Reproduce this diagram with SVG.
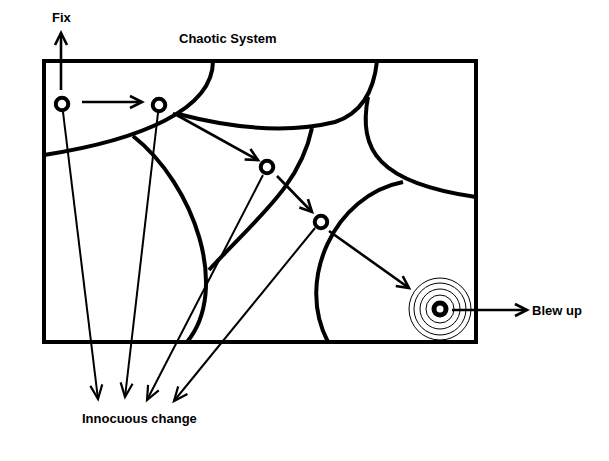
<svg xmlns="http://www.w3.org/2000/svg" width="609" height="461" viewBox="0 0 609 461">
<style>
.lbl{font-family:"Liberation Sans",Arial,sans-serif;font-weight:bold;font-size:13px;fill:#000}
.region{fill:none;stroke:#000;stroke-width:4}
.node{fill:#fff;stroke:#000;stroke-width:4}
.ring{fill:none;stroke:#000;stroke-width:1}
.arr{fill:none;stroke:#000;stroke-width:2.6;marker-end:url(#ah)}
.inn{fill:none;stroke:#000;stroke-width:2;marker-end:url(#ahs)}
</style>
<defs>
<marker id="ah" markerUnits="userSpaceOnUse" viewBox="0 0 16 16" markerWidth="16" markerHeight="16" refX="13" refY="8" orient="auto">
<path d="M1,2 L13,8 L1,14" fill="none" stroke="#000" stroke-width="2.6"/>
</marker>
<marker id="ahs" markerUnits="userSpaceOnUse" viewBox="0 0 18 16" markerWidth="18" markerHeight="16" refX="15" refY="8" orient="auto">
<path d="M1,2 L15,8 L1,14" fill="none" stroke="#000" stroke-width="2.2"/>
</marker>
</defs>
<rect width="609" height="461" fill="#fff"/>
<g id="system">
<rect x="44" y="61" width="432" height="281" fill="none" stroke="#000" stroke-width="4"/>
<path class="region" d="M213,61 C213,110 140,140 44,155"/>
<path class="region" d="M178,114 Q270,138 335,122 Q372,110 377,61"/>
<path class="region" d="M368,97 C358,150 378,183 476,197"/>
<path class="region" d="M403,182 C335,195 295,280 328,342"/>
<path class="region" d="M133,136 C195,185 230,290 187,342"/>
<path class="region" d="M312,128 C300,185 260,215 209,270"/>
</g>
<g id="connectors">
<line class="arr" x1="61" y1="90" x2="61" y2="33"/>
<line class="arr" x1="82" y1="102" x2="142" y2="102"/>
<line class="arr" x1="173" y1="113" x2="258" y2="160"/>
<line class="arr" x1="277" y1="176" x2="312" y2="212"/>
<line class="arr" x1="329" y1="231" x2="409" y2="288"/>
<line class="arr" x1="452" y1="310" x2="527" y2="310"/>
<line class="inn" x1="63" y1="112" x2="98" y2="399"/>
<line class="inn" x1="158" y1="113" x2="125" y2="397"/>
<line class="inn" x1="263" y1="175" x2="147" y2="400"/>
<line class="inn" x1="315" y1="228" x2="174" y2="401"/>
</g>
<g id="n1"><circle class="node" cx="62" cy="104" r="6.25"/></g>
<g id="n2"><circle class="node" cx="159" cy="105" r="6.25"/></g>
<g id="n3"><circle class="node" cx="267" cy="167" r="6.25"/></g>
<g id="n4"><circle class="node" cx="321" cy="222" r="6.25"/></g>
<g id="n5">
<circle class="ring" cx="440" cy="309" r="31"/>
<circle class="ring" cx="440" cy="309" r="26"/>
<circle class="ring" cx="440" cy="309" r="20"/>
<circle class="ring" cx="440" cy="309" r="14"/>
<circle cx="440" cy="309" r="6" fill="#fff" stroke="#000" stroke-width="5"/>
</g>
<g id="labels">
<text class="lbl" x="52" y="22">Fix</text>
<text class="lbl" x="179" y="43">Chaotic System</text>
<text class="lbl" x="532" y="315">Blew up</text>
<text class="lbl" x="82" y="423">Innocuous change</text>
</g>
</svg>
